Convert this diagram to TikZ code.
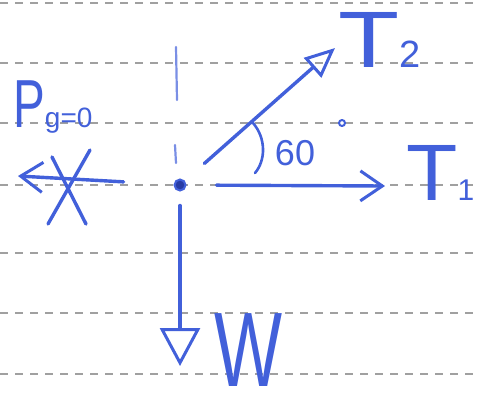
\documentclass[tikz,border=0pt]{standalone}
\usepackage{fontspec}
\setmainfont{Liberation Sans}
\definecolor{InkBlue}{RGB}{66,96,218}
\definecolor{DotBlue}{RGB}{40,60,165}
\definecolor{RuleGray}{RGB}{160,160,160}
\usetikzlibrary{arrows.meta, positioning}

\begin{document}
\begin{tikzpicture}[x=1pt, y=-1pt,
    ink/.style={InkBlue, line width=3.4pt, line cap=round, line join=round},
    force/.style={ink, -{Triangle[open, length=30pt, width=26pt, line width=3pt]}},
    barb/.style={ink, -{Straight Barb[length=22pt, width=30pt, line width=3pt]}},
    lbl/.style={InkBlue, inner sep=0pt}]
      \useasboundingbox (0,0) rectangle (478,397);
      % ruled paper
      \foreach \y in {3,63,123,185,253,313,374}{
        \draw[RuleGray, line width=1.3pt, dash pattern=on 8pt off 7pt] (0,\y) -- (478,\y);
      }
      % the point and the faint vertical
      \node[circle, fill=DotBlue, draw=InkBlue, line width=2pt, minimum size=11pt, inner sep=0pt] (O) at (180,185) {};
      \draw[ink, line width=2.2pt, opacity=0.7] (176,47) -- (177,100) (175,145) -- (176,163);
      % forces
      \coordinate (Tend2) at (335,48);
      \coordinate (Tend1) at (385,186);
      \coordinate (Wend) at (180,366);
      \coordinate (Pend) at (18,176);
      \draw[force, shorten <=26pt] (O) -- (Tend2);
      \draw[barb, shorten <=30pt] (O) -- (Tend1);
      \draw[force, -{Triangle[open, length=38pt, width=40pt, line width=3pt]}, shorten <=14pt] (O) -- (Wend);
      \draw[barb, shorten <=50pt] (O) -- (Pend);
      \draw[ink] (52,157) -- (86,224) (90,150) -- (48,224);
      % angle
      \draw[ink, line width=2.6pt] (253,123) .. controls (266,138) and (266,160) .. (255,173);
      \node[lbl, font=\fontsize{36}{36}\selectfont] (ang) at (295,153) {60};
      \draw[ink, line width=2pt] (342,123) circle (3pt);
      % labels
      \node[lbl, anchor=base west] (T2) at (338,67) {\scalebox{1.25}[1]{\fontsize{80}{80}\selectfont T}\fontsize{38}{38}\selectfont 2};
      \node[lbl, anchor=base west] (T1) at (406,200) {\scalebox{1.05}[1]{\fontsize{80}{80}\selectfont T}\fontsize{30}{30}\selectfont 1};
      \node[lbl, anchor=base west] (W) at (214,386) {\scalebox{0.68}[1]{\fontsize{106}{106}\selectfont W}};
      \node[lbl, anchor=base west] (P) at (13,127) {\scalebox{0.7}[1]{\fontsize{68}{68}\selectfont P}\fontsize{28}{28}\selectfont g=0};
    \end{tikzpicture}
\end{document}
